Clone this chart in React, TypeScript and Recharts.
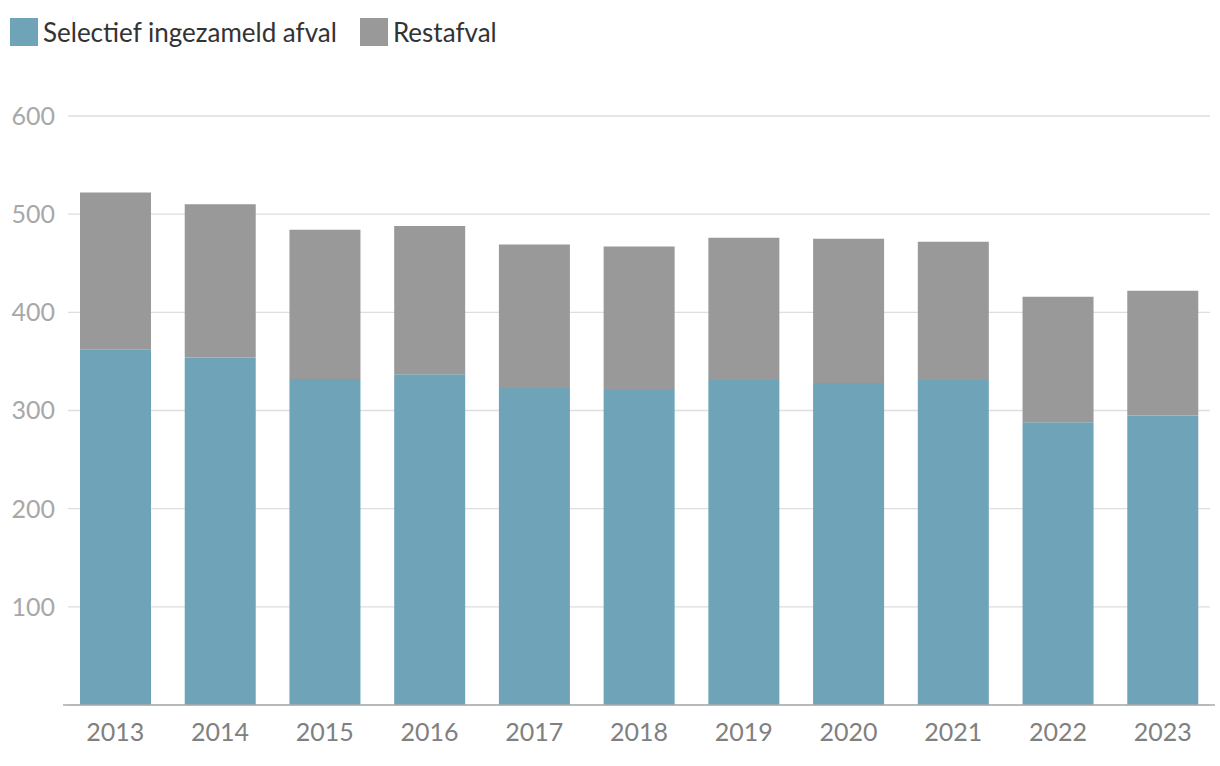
import { BarChart, Bar, XAxis, YAxis, CartesianGrid } from "recharts";

const YEARS = ["2013", "2014", "2015", "2016", "2017", "2018", "2019", "2020", "2021", "2022", "2023"];
const SELECTIEF = [362, 354, 332, 337, 323, 321, 331, 328, 331, 288, 295];
const RESTAFVAL = [160, 156, 152, 151, 146, 146, 145, 147, 141, 128, 127];
const Y_TICKS = [100, 200, 300, 400, 500, 600];

const COLORS = {
  selectief: "#6fa3b8",
  rest: "#999999",
  grid: "#dedede",
  axis: "#aaaaaa",
  yText: "#a8a8a8",
  xText: "#808080",
  legendText: "#333333",
};

const FONT = "Lato, 'Open Sans', sans-serif";

const data = YEARS.map((year, i) => ({
  year,
  selectief: SELECTIEF[i],
  rest: RESTAFVAL[i],
}));

const SERIES = [
  { key: "selectief", label: "Selectief ingezameld afval", color: COLORS.selectief },
  { key: "rest", label: "Restafval", color: COLORS.rest },
];

function LegendRow() {
  return (
    <div style={{ position: "absolute", left: 10, top: 18, display: "flex", alignItems: "center", fontFamily: FONT, fontSize: 26, color: COLORS.legendText }}>
      {SERIES.map((s) => (
        <div key={s.key} style={{ display: "flex", alignItems: "center", marginRight: 23 }}>
          <span style={{ display: "inline-block", width: 28, height: 28, background: s.color, marginRight: 5 }} />
          <span style={{ lineHeight: "28px" }}>{s.label}</span>
        </div>
      ))}
    </div>
  );
}

export default function App() {
  return (
    <div style={{ position: "absolute", left: 0, top: 0, width: 1220, height: 766, background: "#fff" }}>
      <LegendRow />
      <BarChart width={1220} height={766} data={data} margin={{ top: 116, right: 5, left: 0, bottom: 31 }} barSize={71}>
        <CartesianGrid vertical={false} stroke={COLORS.grid} strokeWidth={1.3} x={68} width={1142} />
        <XAxis
          dataKey="year"
          height={30}
          tickLine={false}
          axisLine={{ stroke: COLORS.axis, strokeWidth: 1.5 }}
          tick={{ fill: COLORS.xText, fontSize: 25, fontFamily: FONT }}
          tickMargin={12}
        />
        <YAxis
          domain={[0, 600]}
          ticks={Y_TICKS}
          width={63}
          tickLine={false}
          axisLine={false}
          tick={{ fill: COLORS.yText, fontSize: 25, fontFamily: FONT }}
        />
        {SERIES.map((s) => (
          <Bar key={s.key} dataKey={s.key} stackId="a" fill={s.color} isAnimationActive={false} />
        ))}
      </BarChart>
    </div>
  );
}
